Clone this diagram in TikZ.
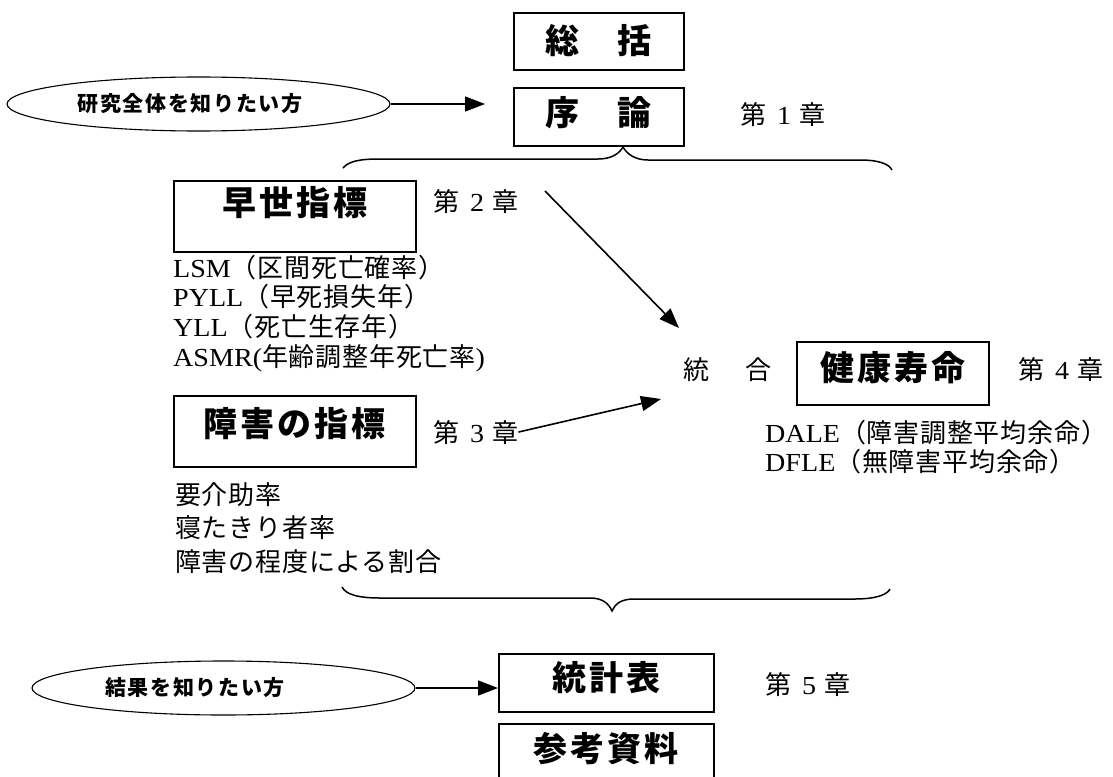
\documentclass[tikz,border=0pt]{standalone}
\usepackage{fontspec}
\setmainfont{Liberation Serif}[FakeStretch=1.08]
\newfontfamily\cjk{Noto Sans CJK JP}[LetterSpace=3]
\newfontfamily\cjkb{Noto Sans CJK JP}[LetterSpace=9]
\newfontfamily\cjke{Noto Sans CJK JP}[LetterSpace=8]
\usetikzlibrary{arrows.meta,shapes.geometric}
\newcommand\J[1]{{\fontsize{26}{26}\selectfont\cjk #1}}
\newcommand\chap[1]{\J{第}\hspace{11pt}#1\hspace{8pt}\J{章}}
\tikzset{
  titlebox/.style={draw, line width=1.6pt, inner sep=0pt, anchor=north west,
    font=\fontsize{34}{34}\selectfont\cjkb\bfseries},
  askell/.style={draw, ellipse, line width=1.1pt, inner sep=0pt,
    minimum width=383pt, minimum height=54pt,
    font=\fontsize{21}{21}\selectfont\cjke\bfseries},
  bodytext/.style={anchor=base west, inner sep=0pt, font=\fontsize{26}{26}\selectfont},
  arr/.style={line width=1.6pt, -{Triangle[length=20pt,width=15pt]}},
  bracepath/.style={line width=1.5pt}
}
\begin{document}
\begin{tikzpicture}[x=1pt,y=-1pt]
\useasboundingbox (0,0) rectangle (1113,776);
\clip (0,0) rectangle (1113,776);

% title boxes
\node[titlebox, minimum width=170pt, text height=41pt, text depth=16pt] (sokatsu) at (513,12) {総\hspace{38pt}括};
\node[titlebox, minimum width=170pt, text height=38pt, text depth=20pt] (joron) at (513,87) {序\hspace{38pt}論};
\node[titlebox, minimum width=242pt, text height=35pt, text depth=36pt] (sosei) at (173,180) {早世指標};
\node[titlebox, minimum width=242pt, text height=41pt, text depth=30pt] (shogai) at (173,395) {障害の指標};
\node[titlebox, minimum width=192pt, text height=39pt, text depth=24pt] (kenko) at (796,341) {健康寿命};
\node[titlebox, minimum width=215pt, text height=37pt, text depth=21pt] (tokei) at (498,653) {統計表};
\node[titlebox, minimum width=215pt, text height=38pt, text depth=30pt] (sanko) at (498,723) {参考資料};

% ellipses
\node[askell] (e1) at (198.5,104) {研究全体を知りたい方\hspace*{17pt}};
\node[askell] (e2) at (223.5,688) {結果を知りたい方\hspace*{57pt}};

% chapter labels
\node[bodytext] (ch1) at (740,124) {\chap{1}};
\node[bodytext] (ch2) at (433,211) {\chap{2}};
\node[bodytext] (ch3) at (433,442) {\chap{3}};
\node[bodytext] (ch4) at (1018,379) {\chap{4}};
\node[bodytext] (ch5) at (765,694) {\chap{5}};

% lists
\node[bodytext] (lsm) at (173,277) {LSM\J{（区間死亡確率）}};
\node[bodytext] (pyll) at (173,306) {PYLL\J{（早死損失年）}};
\node[bodytext] (yll) at (173,336) {YLL\J{（死亡生存年）}};
\node[bodytext] (asmr) at (173,366) {ASMR(\J{年齢調整年死亡率})};

\node[bodytext] (yokaijo) at (175,504) {\J{要介助率}};
\node[bodytext] (netakiri) at (175,537) {\J{寝たきり者率}};
\node[bodytext] (teido) at (175,571) {\J{障害の程度による割合}};

\node[bodytext] (dale) at (765,442) {DALE\J{（障害調整平均余命）}};
\node[bodytext] (dfle) at (765,471) {DFLE\J{（無障害平均余命）}};

\node[bodytext] (togo) at (683,379) {\J{統}\hspace{36pt}\J{合}};

% arrows
\draw[arr, shorten >=28pt] (e1.east) -- (e1.east -| joron.west);
\draw[arr] (e2.east) -- (e2.east -| tokei.west);
\coordinate (s1) at (545,191);
\coordinate (t1) at (679,328);
\coordinate (t2) at (661,399);
\draw[arr] (s1) -- (t1);
\draw[arr] (ch3.east) -- (t2);

% braces
\draw[bracepath] (343,168) .. controls (349,161) and (360,159) .. (380,159)
  -- (598,159) .. controls (611,159) and (619,154) .. (623,147)
  .. controls (627,154) and (635,160) .. (648,160)
  -- (860,160) .. controls (879,160) and (889,164) .. (892,170);
\draw[bracepath] (342,587) .. controls (346,595) and (360,598) .. (380,598)
  -- (590,598) .. controls (603,598) and (609,604) .. (612,611)
  .. controls (615,604) and (621,599) .. (634,599)
  -- (855,599) .. controls (875,599) and (887,595) .. (890,589);
\end{tikzpicture}
\end{document}
